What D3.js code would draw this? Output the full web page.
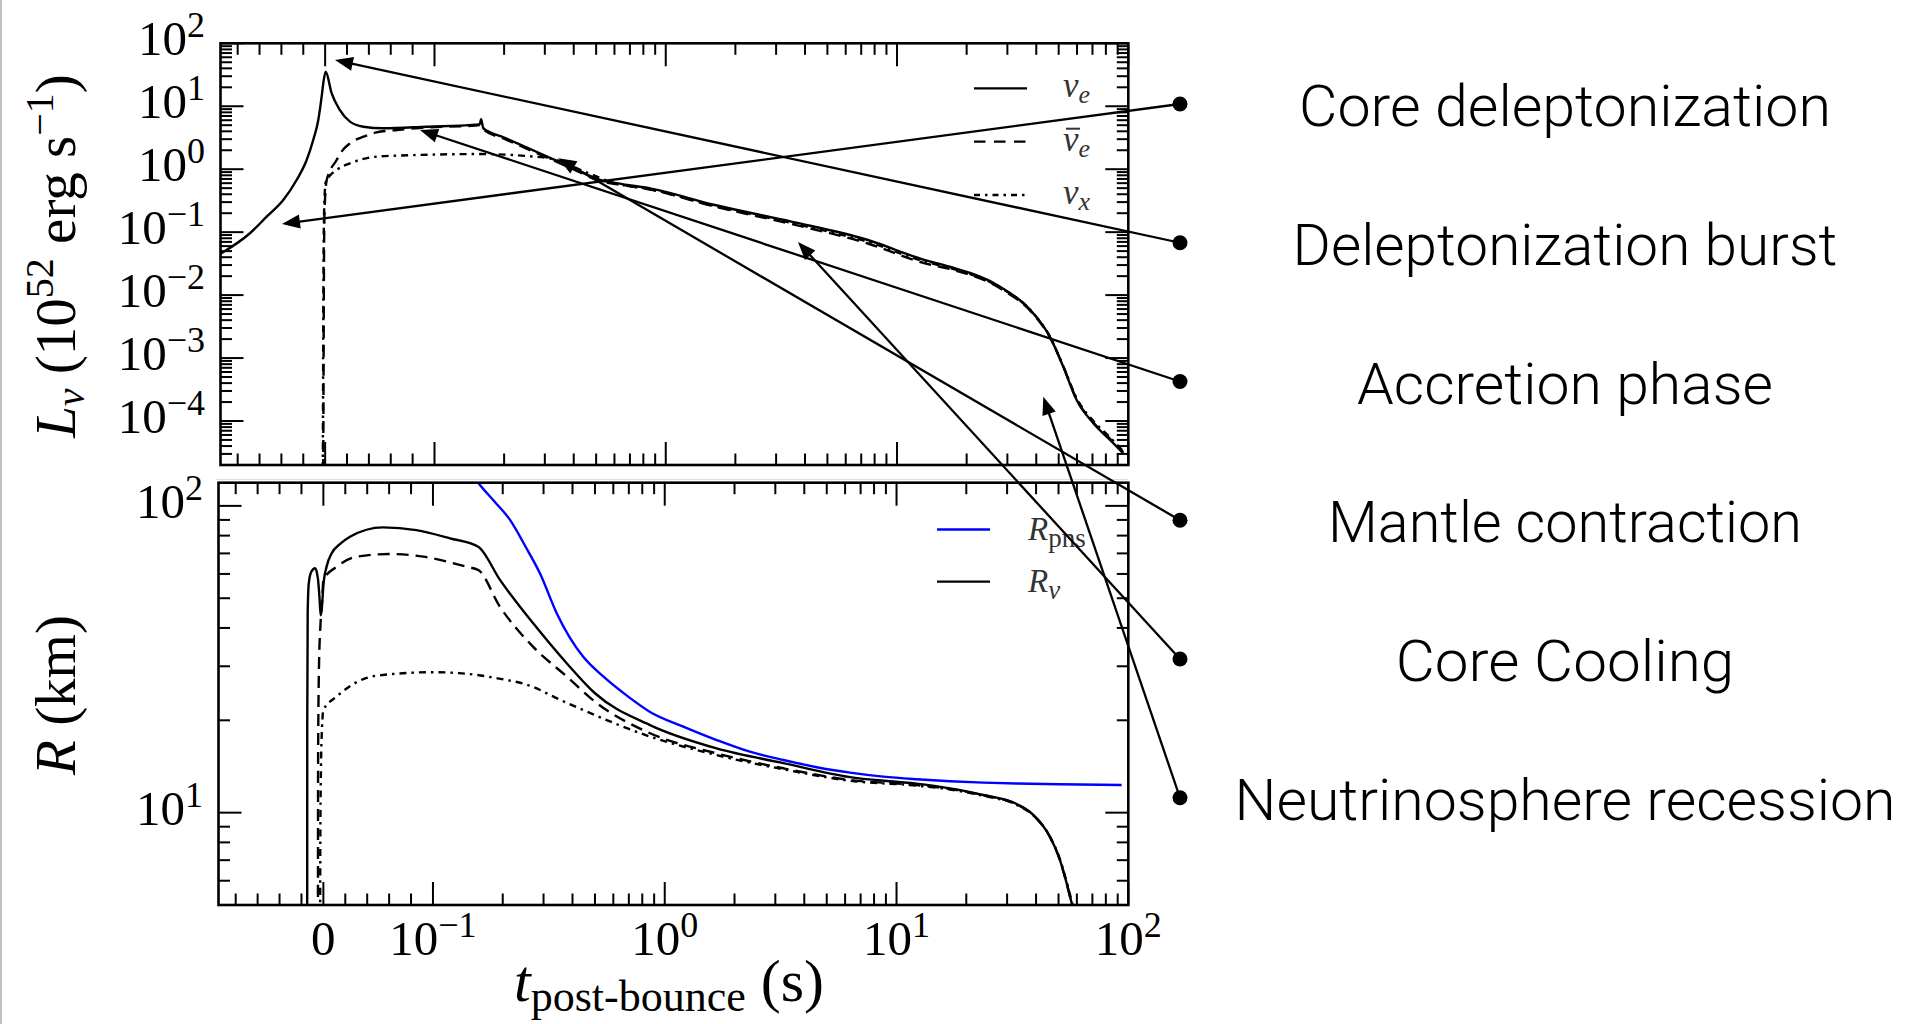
<!DOCTYPE html>
<html><head><meta charset="utf-8">
<script src="https://cdn.jsdelivr.net/npm/d3@7/dist/d3.min.js"></script>
<style>body{margin:0;background:#fff;overflow:hidden}</style>
</head><body>
<svg id="c" width="1907" height="1024" xmlns="http://www.w3.org/2000/svg"></svg>
<script>
// ---------------- DATA ----------------
// Luminosity (10^52 erg/s) vs post-bounce time (s)
const nuE_t = [-0.0957,-0.0688,-0.0535,-0.0383,-0.0261,-0.0169,-0.0109,-0.0063,-0.0032,-0.0017,0.0005,0.0059,0.0135,0.0227,0.0349,0.0532,0.0929,0.150,0.157,0.159,0.1626,0.2,0.3,0.4,0.52,0.65,0.855,1.63,3.49,7.48,13.2,16.9,27.9,38.8,45.8,52.3,59.8,70.6,83.4,95];
const nuE_L = [0.0453,0.096,0.176,0.324,0.673,1.40,2.91,6.0,14.2,23.2,35.4,16.1,8.7,5.7,4.73,4.47,4.73,5.1,5.2,6.2,4.47,3.19,1.65,1.03,0.674,0.58,0.497,0.27,0.147,0.075,0.036,0.0282,0.0136,0.00514,0.00218,7.3e-4,2.16e-4,9.2e-5,5.0e-5,3.07e-5];
const nuEbar_t = [-0.0020,-0.0016,-0.0012,-0.0006,0.0014,0.0105,0.015,0.0227,0.035,0.047,0.066,0.093,0.150,0.157,0.1626,0.2,0.3,0.4,0.52,0.65,0.855,1.63,3.49,7.48,13.2,16.9,27.9,38.8,45.8,52.3,59.8,70.6,83.4,95];
const nuEbar_L = [1e-6,1e-4,0.01,0.2,0.67,1.40,1.90,2.58,3.28,3.85,4.2,4.6,4.95,5.05,4.3,3.05,1.58,0.99,0.65,0.56,0.475,0.255,0.135,0.066,0.032,0.026,0.0128,0.0050,0.00215,7.4e-4,2.2e-4,9.5e-5,5.2e-5,3.2e-5];
const nuX_t = [-0.0024,-0.0020,-0.0016,-0.0010,0.0005,0.0105,0.0227,0.047,0.084,0.157,0.25,0.337,0.45,0.6,0.855,1.63,3.49,7.48,13.2,16.9,27.9,38.8,45.8,52.3,59.8,70.6,83.4,95];
const nuX_L = [1e-6,1e-4,0.01,0.2,0.625,0.97,1.24,1.58,1.68,1.74,1.62,1.40,0.9,0.6,0.48,0.26,0.14,0.07,0.034,0.027,0.0132,0.0052,0.0022,7.5e-4,2.3e-4,1.0e-4,5.5e-5,3.3e-5];

// Radii (km) vs post-bounce time (s)
const RnuE_t = [-0.0148,-0.0147,-0.0143,-0.0133,-0.0110,-0.0075,-0.0050,-0.0035,-0.0025,-0.0015,0.0,0.003,0.0076,0.015,0.0243,0.0543,0.0848,0.1184,0.1568,0.1946,0.2707,0.3775,0.5,0.864,1.675,3.25,6.3,12.2,17.0,23.7,33.0,38.9,45.9,50.7,54.2,57.0,59.0];
const RnuE   = [3,20,45,56,61,62.6,58,50,44,46,55,63.5,70.1,75,79.3,85.1,83.4,78.4,73.6,57.4,41.4,30.7,24.5,19.3,16.2,14.5,13.05,12.43,12.0,11.42,10.67,9.84,8.35,7.02,5.89,5.07,4.6];
const RnuEbar_t = [-0.0050,-0.0048,-0.0040,-0.0025,-0.0010,0.0,0.0121,0.0305,0.0609,0.0913,0.1398,0.1568,0.1946,0.2707,0.3775,0.5,0.864,1.675,3.25,6.3,12.2,17.0,23.7,33.0,38.9,45.9,50.7,54.2,57.0,59.5];
const RnuEbar   = [3,15,30,42,50,57.4,63.3,68.3,69.7,68.3,63.3,61.8,46.9,34.7,27.8,23.0,18.15,15.6,13.95,12.78,12.3,11.95,11.40,10.65,9.82,8.33,7.0,5.88,5.05,4.5];
const RnuX_t = [-0.0030,-0.0028,-0.0022,-0.0012,0.0,0.0121,0.0395,0.0541,0.1,0.1297,0.19,0.2707,0.334,0.445,0.864,1.675,3.25,6.3,12.2,17.0,23.7,33.0,38.9,45.9,50.7,54.2,57.0,60.0];
const RnuX   = [3,8,14,19,21.6,23.9,27.5,28.1,28.7,28.5,27.4,25.7,23.8,21.6,17.7,15.4,13.85,12.7,12.25,11.9,11.35,10.6,9.8,8.35,7.05,5.95,5.15,4.5];
const Rpns_t = [0.14,0.1568,0.185,0.215,0.25,0.2894,0.3418,0.445,0.543,0.7,0.864,1.202,1.675,2.33,3.25,4.53,6.30,8.77,12.2,17.0,23.7,33.0,50,93.6];
const Rpns   = [135,119,103,90,74,60.3,44.7,32.2,27.8,23.8,21.3,19.08,17.25,15.8,14.85,14.06,13.5,13.1,12.85,12.66,12.53,12.44,12.37,12.31];

// Ticks
const xMajorTicks = [0, 0.1, 1, 10, 100];
const xMajorLabels = [null, -1, 0, 1, 2];   // exponent of 10 (null -> "0")
const xLinMinor = [-0.08,-0.06,-0.04,-0.02,0.02,0.04,0.06,0.08];
const logSubs = [2,3,4,5,6,7,8,9];
const lumMajorExp = [-4,-3,-2,-1,0,1,2];
const radMajorExp = [1,2];

// Annotations
const annotLabels = ["Core deleptonization","Deleptonization burst","Accretion phase","Mantle contraction","Core Cooling","Neutrinosphere recession"];
const annotTipT = [-0.0395, 0.009, 0.0867, 0.343, 3.73, 42.9];
const annotTipL = [0.135, 54.3, 4.2, 1.49, 0.0698, 2.43e-4];

// ---------------- LAYOUT ----------------
const W = 1907, H = 1024;
const svg = d3.select('#c');
svg.append('rect').attr('width',W).attr('height',H).attr('fill','#fff');
svg.append('rect').attr('x',0).attr('y',0).attr('width',2).attr('height',H).attr('fill','#c2c2c2');

const SERIF = "'Liberation Serif','Times New Roman',serif";
const SANS = "'Liberation Sans',Arial,Helvetica,sans-serif";
const LIGHT = "Roboto,'Liberation Sans',Arial,sans-serif";

// symlog-like time transform: linear on [-0.1,0.1], log10 above 0.1
const LIN = 0.4728;
const tu = t => t <= 0.1 ? t/0.1*LIN : LIN + Math.log10(t/0.1);
const uMin = tu(-0.0957), uMax = tu(100);
function makeX(x0, x1){
  const s = d3.scaleLinear().domain([uMin, uMax]).range([x0, x1]);
  return t => s(tu(t));
}

const pTop = {x0:220.5, x1:1128.3, y0:43.3, y1:465};
const pBot = {x0:218.5, x1:1128.3, y0:482.7, y1:905};
const xTop = makeX(pTop.x0, pTop.x1);
const xBot = makeX(pBot.x0, pBot.x1);
const yTop = d3.scaleLog().domain([2e-5, 100]).range([pTop.y1, pTop.y0]);
const yBot = d3.scaleLog().domain([5, 119]).range([pBot.y1, pBot.y0]);

const xMinorTicks = xLinMinor.concat(...[0.1,1,10].map(d => logSubs.map(s => s*d)));

// faint separator line between images
svg.append('line').attr('x1',216).attr('x2',1128).attr('y1',479.5).attr('y2',479.5)
  .attr('stroke','#dedede').attr('stroke-width',1.2);

const defs = svg.append('defs');
function clip(id, p){
  defs.append('clipPath').attr('id', id).append('rect')
    .attr('x', p.x0).attr('y', p.y0).attr('width', p.x1-p.x0).attr('height', p.y1-p.y0);
}
clip('clipTop', pTop); clip('clipBot', pBot);

function drawSeries(g, X, Y, ts, vs, style){
  const pts = ts.map((t,i) => [t, vs[i]]);
  const line = d3.line().x(d => X(d[0])).y(d => Y(d[1])).curve(d3.curveMonotoneX);
  g.append('path').attr('d', line(pts)).attr('fill','none')
    .attr('stroke', style.color || '#000').attr('stroke-width', style.w || 2.4)
    .attr('stroke-dasharray', style.dash || null)
    .attr('stroke-linejoin','round');
}

const DASH = '12,7', DASHDOT = '7,5,2.5,5';

// ---- top panel curves
const gTop = svg.append('g').attr('clip-path','url(#clipTop)');
drawSeries(gTop, xTop, yTop, nuX_t, nuX_L, {dash:DASHDOT});
drawSeries(gTop, xTop, yTop, nuEbar_t, nuEbar_L, {dash:DASH});
drawSeries(gTop, xTop, yTop, nuE_t, nuE_L, {});

// ---- bottom panel curves
const gBot = svg.append('g').attr('clip-path','url(#clipBot)');
drawSeries(gBot, xBot, yBot, RnuX_t, RnuX, {dash:DASHDOT});
drawSeries(gBot, xBot, yBot, RnuEbar_t, RnuEbar, {dash:DASH});
drawSeries(gBot, xBot, yBot, RnuE_t, RnuE, {});
drawSeries(gBot, xBot, yBot, Rpns_t, Rpns, {color:'#0000ff', w:2.4});

// ---- frames and ticks
function frameTicks(p, X, Y, yMaj, yMin){
  const g = svg.append('g').attr('stroke','#000').attr('stroke-width',2).attr('fill','none');
  const MAJ = 23, MIN = 11.5;
  xMajorTicks.forEach(t => {
    const x = X(t);
    g.append('line').attr('x1',x).attr('x2',x).attr('y1',p.y1).attr('y2',p.y1-MAJ);
    g.append('line').attr('x1',x).attr('x2',x).attr('y1',p.y0).attr('y2',p.y0+MAJ);
  });
  xMinorTicks.forEach(t => {
    const x = X(t);
    g.append('line').attr('x1',x).attr('x2',x).attr('y1',p.y1).attr('y2',p.y1-MIN);
    g.append('line').attr('x1',x).attr('x2',x).attr('y1',p.y0).attr('y2',p.y0+MIN);
  });
  yMaj.forEach(v => {
    const y = Y(v);
    g.append('line').attr('x1',p.x0).attr('x2',p.x0+MAJ).attr('y1',y).attr('y2',y);
    g.append('line').attr('x1',p.x1).attr('x2',p.x1-MAJ).attr('y1',y).attr('y2',y);
  });
  yMin.forEach(v => {
    const y = Y(v);
    g.append('line').attr('x1',p.x0).attr('x2',p.x0+MIN).attr('y1',y).attr('y2',y);
    g.append('line').attr('x1',p.x1).attr('x2',p.x1-MIN).attr('y1',y).attr('y2',y);
  });
  svg.append('rect').attr('x',p.x0).attr('y',p.y0).attr('width',p.x1-p.x0).attr('height',p.y1-p.y0)
    .attr('fill','none').attr('stroke','#000').attr('stroke-width',2.6);
}
const lumMinor = [];
for (let e = -5; e <= 1; e++) logSubs.forEach(s => { const v = s*Math.pow(10,e); if (v > 2e-5 && v < 100) lumMinor.push(v); });
const radMinor = [];
[1,10].forEach(d => logSubs.forEach(s => { const v = s*d; if (v > 5 && v < 119) radMinor.push(v); }));
frameTicks(pTop, xTop, yTop, lumMajorExp.map(e => Math.pow(10,e)), lumMinor);
frameTicks(pBot, xBot, yBot, radMajorExp.map(e => Math.pow(10,e)), radMinor);

// ---- tick labels
const TF = 49, SF = 36, RISE = 18;
function powLabel(x, y, exp, anchor){
  const t = svg.append('text').attr('x',x).attr('y',y).attr('text-anchor',anchor)
    .attr('font-family',SERIF).attr('font-size',TF).attr('fill','#000');
  if (exp === null) { t.text('0'); return; }
  t.append('tspan').text('10');
  t.append('tspan').attr('dy',-RISE).attr('font-size',SF).text(String(exp).replace('-','\u2212'));
}
lumMajorExp.forEach(e => powLabel(205, yTop(Math.pow(10,e)) + 12, e, 'end'));
radMajorExp.forEach(e => powLabel(203, yBot(Math.pow(10,e)) + 12, e, 'end'));
xMajorTicks.forEach((t,i) => powLabel(xBot(t), 955, xMajorLabels[i], 'middle'));

// ---- axis labels
const AF = 57, ASF = 40;
{
  const t = svg.append('text').attr('transform','translate(75,256) rotate(-90)')
    .attr('text-anchor','middle').attr('font-family',SERIF).attr('font-size',AF);
  t.append('tspan').attr('font-style','italic').text('L');
  t.append('tspan').attr('font-style','italic').attr('font-size',ASF).attr('dy',9).text('\u03BD');
  t.append('tspan').attr('dy',-9).text('\u00A0(10');
  t.append('tspan').attr('font-size',ASF).attr('dy',-22).text('52');
  t.append('tspan').attr('dy',22).text('\u00A0erg s');
  t.append('tspan').attr('font-size',ASF).attr('dy',-22).text('\u22121');
  t.append('tspan').attr('dy',22).text(')');
}
{
  const t = svg.append('text').attr('transform','translate(75,695) rotate(-90)')
    .attr('text-anchor','middle').attr('font-family',SERIF).attr('font-size',AF);
  t.append('tspan').attr('font-style','italic').text('R');
  t.append('tspan').text('\u00A0(km)');
}
{
  const t = svg.append('text').attr('x',669).attr('y',1001)
    .attr('text-anchor','middle').attr('font-family',SERIF).attr('font-size',60);
  t.append('tspan').attr('font-style','italic').text('t');
  t.append('tspan').attr('font-size',44).attr('dy',10).text('post-bounce');
  t.append('tspan').attr('dy',-10).text('\u00A0(s)');
}

// ---- legends
const legTop = [
  {y:88.3, dash:null, sub:'e', bar:false},
  {y:141.7, dash:'11.5,8.5', sub:'e', bar:true},
  {y:195, dash:'6,5,2.5,5', sub:'x', bar:false}
];
legTop.forEach(d => {
  svg.append('line').attr('x1',974).attr('x2',1027).attr('y1',d.y).attr('y2',d.y)
    .attr('stroke','#000').attr('stroke-width',2.3).attr('stroke-dasharray',d.dash);
  const t = svg.append('text').attr('x',1063).attr('y',d.y+9).attr('font-family',SERIF)
    .attr('font-style','italic').attr('font-size',35).attr('fill','#333');
  t.append('tspan').text('\u03BD');
  t.append('tspan').attr('font-size',26).attr('dy',6).text(d.sub);
  if (d.bar) {
    svg.append('line').attr('x1',1066).attr('x2',1080).attr('y1',d.y-13).attr('y2',d.y-13)
      .attr('stroke','#333').attr('stroke-width',2);
  }
});
const legBot = [
  {y:529.5, color:'#0000ff', main:'R', sub:'pns', subItalic:false},
  {y:581.7, color:'#000', main:'R', sub:'\u03BD', subItalic:true}
];
legBot.forEach(d => {
  svg.append('line').attr('x1',937).attr('x2',990).attr('y1',d.y).attr('y2',d.y)
    .attr('stroke',d.color).attr('stroke-width',2.3);
  const t = svg.append('text').attr('x',1028).attr('y',d.y+10).attr('font-family',SERIF)
    .attr('font-size',33).attr('fill','#333');
  t.append('tspan').attr('font-style','italic').text(d.main);
  t.append('tspan').attr('font-size',27).attr('dy',7).attr('font-style', d.subItalic ? 'italic' : 'normal').text(d.sub);
});

// ---- annotations: dots, lines with arrowheads, labels
const DOT_X = 1180, DOT_Y0 = 104, DOT_DY = 138.75;
const measurer = svg.append('text').attr('font-family',SANS).attr('font-size',58).attr('opacity',0);
annotLabels.forEach((lab, i) => {
  const dy = DOT_Y0 + i*DOT_DY;
  const tx = xTop(annotTipT[i]), ty = yTop(annotTipL[i]);
  const ang = Math.atan2(ty - dy, tx - DOT_X);
  const AL = 18, AW = 7;
  const bx = tx - AL*Math.cos(ang), by = ty - AL*Math.sin(ang);
  svg.append('line').attr('x1',DOT_X).attr('y1',dy).attr('x2',bx+2*Math.cos(ang)).attr('y2',by+2*Math.sin(ang))
    .attr('stroke','#000').attr('stroke-width',2.3);
  const px = -Math.sin(ang), py = Math.cos(ang);
  svg.append('polygon').attr('points',[
    [tx,ty],[bx+AW*px, by+AW*py],[bx-AW*px, by-AW*py]
  ].map(p => p.join(',')).join(' ')).attr('fill','#000');
  svg.append('circle').attr('cx',DOT_X).attr('cy',dy).attr('r',7.5).attr('fill','#000');
  measurer.text(lab);
  const wRef = measurer.node().getComputedTextLength();
  svg.append('text').attr('x',1565).attr('y',dy+22).attr('text-anchor','middle')
    .attr('font-family',LIGHT).attr('font-weight',300).attr('font-size',58).attr('fill','#000')
    .attr('textLength', wRef).attr('lengthAdjust','spacingAndGlyphs').text(lab);
});
measurer.remove();
</script>
</body></html>
